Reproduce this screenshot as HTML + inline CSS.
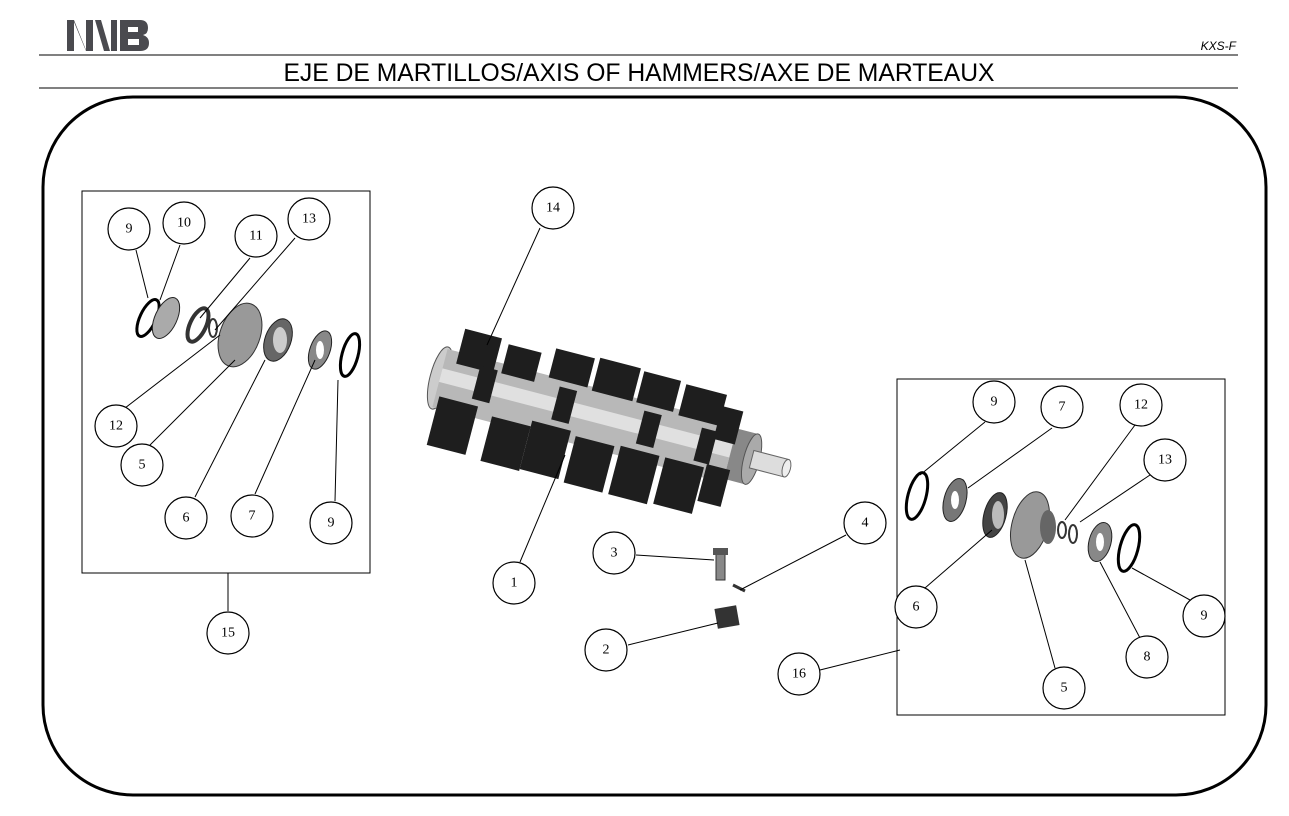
<!DOCTYPE html>
<html><head><meta charset="utf-8"><style>
body{margin:0;background:#fff;}
svg{display:block;font-family:"Liberation Sans",sans-serif;}
.c{fill:#fff;stroke:#000;stroke-width:1.2}
.t{font-family:"Liberation Serif",serif;font-size:14px;text-anchor:middle;dominant-baseline:central}
.l{stroke:#000;stroke-width:1;fill:none}
</style></head><body>
<svg width="1289" height="816" viewBox="0 0 1289 816">
<g fill="#4a4a4f">
<polygon points="67,20 74,20 86,50 86,20 93,20 93,51 86,51 74,22 74,51 67,51"/>
<rect x="111" y="20" width="6" height="31"/>
<path d="M120,20 H140 Q148,20 148,28 Q148,34 143,35 Q149,37 149,43 Q149,51 140,51 H120 Z M128,27 V32 H138 V27 Z M128,39 V45 H139 V39 Z" fill-rule="evenodd"/>
<polygon points="95,20 101,20 110,51 104,51"/>
</g>
<text x="1236" y="50" font-size="12" font-style="italic" text-anchor="end">KXS-F</text>
<line x1="39" y1="55" x2="1238" y2="55" stroke="#000" stroke-width="1"/>
<text x="639" y="81" font-size="24.7" text-anchor="middle">EJE DE MARTILLOS/AXIS OF HAMMERS/AXE DE MARTEAUX</text>
<line x1="39" y1="88" x2="1238" y2="88" stroke="#000" stroke-width="1"/>
<rect x="43" y="97" width="1223" height="698" rx="90" fill="none" stroke="#000" stroke-width="3"/>
<rect x="82" y="191" width="288" height="382" fill="none" stroke="#000" stroke-width="1"/>
<rect x="897" y="379" width="328" height="336" fill="none" stroke="#000" stroke-width="1"/>

<ellipse cx="148" cy="318" rx="8" ry="20" fill="none" stroke="#000" stroke-width="3" transform="rotate(25 148 318)"/>
<ellipse cx="166" cy="318" rx="11" ry="22" fill="#aaa" stroke="#222" transform="rotate(25 166 318)"/>
<ellipse cx="198" cy="325" rx="8" ry="18" fill="none" stroke="#333" stroke-width="4" transform="rotate(25 198 325)"/>
<ellipse cx="213" cy="328" rx="4" ry="9" fill="none" stroke="#333" stroke-width="2"/>
<ellipse cx="240" cy="335" rx="20" ry="33" fill="#999" stroke="#333" transform="rotate(20 240 335)"/>
<ellipse cx="278" cy="340" rx="13" ry="22" fill="#666" stroke="#222" transform="rotate(20 278 340)"/>
<ellipse cx="280" cy="340" rx="7" ry="13" fill="#ccc"/>
<ellipse cx="320" cy="350" rx="10" ry="20" fill="#888" stroke="#222" transform="rotate(20 320 350)"/>
<ellipse cx="320" cy="350" rx="4" ry="9" fill="#fff"/>
<ellipse cx="350" cy="355" rx="8" ry="22" fill="none" stroke="#000" stroke-width="3" transform="rotate(15 350 355)"/>

<ellipse cx="917" cy="496" rx="9" ry="24" fill="none" stroke="#000" stroke-width="3" transform="rotate(15 917 496)"/>
<ellipse cx="955" cy="500" rx="11" ry="22" fill="#777" stroke="#222" transform="rotate(15 955 500)"/>
<ellipse cx="955" cy="500" rx="4" ry="9" fill="#fff"/>
<ellipse cx="995" cy="515" rx="11" ry="23" fill="#444" stroke="#222" transform="rotate(15 995 515)"/>
<ellipse cx="998" cy="515" rx="6" ry="14" fill="#bbb"/>
<ellipse cx="1030" cy="525" rx="18" ry="34" fill="#999" stroke="#333" transform="rotate(15 1030 525)"/>
<ellipse cx="1048" cy="527" rx="8" ry="17" fill="#666"/>
<ellipse cx="1062" cy="530" rx="4" ry="8" fill="none" stroke="#333" stroke-width="2"/>
<ellipse cx="1073" cy="534" rx="4" ry="9" fill="none" stroke="#333" stroke-width="2"/>
<ellipse cx="1100" cy="542" rx="11" ry="20" fill="#888" stroke="#222" transform="rotate(15 1100 542)"/>
<ellipse cx="1100" cy="542" rx="4" ry="9" fill="#fff"/>
<ellipse cx="1129" cy="548" rx="9" ry="24" fill="none" stroke="#000" stroke-width="3" transform="rotate(15 1129 548)"/>

<rect x="716" y="552" width="9" height="28" fill="#888" stroke="#333"/>
<rect x="713" y="548" width="15" height="7" fill="#555"/>
<line x1="733" y1="585" x2="745" y2="591" stroke="#333" stroke-width="3"/>
<rect x="716" y="607" width="22" height="20" fill="#333" transform="rotate(-10 727 617)"/>

<g transform="translate(440,378) rotate(14.6)">
<ellipse cx="0" cy="0" rx="10" ry="32" fill="#ccc" stroke="#555"/>
<rect x="0" y="-30" width="300" height="60" fill="#b8b8b8"/>
<rect x="0" y="-10" width="300" height="14" fill="#e0e0e0"/>
<rect x="300" y="-26" width="22" height="52" fill="#888"/>
<ellipse cx="322" cy="0" rx="8" ry="26" fill="#aaa" stroke="#555"/>
<rect x="322" y="-9" width="36" height="18" fill="#ddd" stroke="#666"/>
<ellipse cx="358" cy="0" rx="4" ry="9" fill="#eee" stroke="#666"/>
<g fill="#1e1e1e">
<rect x="12" y="-54" width="38" height="36"/><rect x="4" y="18" width="40" height="50"/>
<rect x="58" y="-50" width="34" height="30"/><rect x="60" y="24" width="40" height="46"/>
<rect x="105" y="-58" width="40" height="30"/><rect x="100" y="18" width="40" height="50"/>
<rect x="150" y="-60" width="42" height="34"/><rect x="146" y="22" width="40" height="48"/>
<rect x="196" y="-58" width="38" height="32"/><rect x="192" y="20" width="40" height="50"/>
<rect x="240" y="-56" width="42" height="32"/><rect x="238" y="20" width="40" height="48"/>
<rect x="280" y="-44" width="22" height="34"/><rect x="280" y="16" width="24" height="38"/>
<rect x="36" y="-22" width="18" height="34"/><rect x="118" y="-22" width="18" height="34"/><rect x="206" y="-20" width="18" height="34"/><rect x="266" y="-18" width="16" height="34"/>
</g>
</g>

<g class="l">
<line x1="540" y1="228" x2="487" y2="345"/><line x1="520" y1="562" x2="565" y2="455"/>
<line x1="136" y1="250" x2="148" y2="298"/><line x1="180" y1="245" x2="160" y2="300"/>
<line x1="250" y1="258" x2="200" y2="318"/><line x1="295" y1="238" x2="215" y2="330"/>
<line x1="125" y1="408" x2="220" y2="335"/><line x1="150" y1="445" x2="235" y2="360"/>
<line x1="195" y1="497" x2="265" y2="360"/><line x1="255" y1="494" x2="315" y2="360"/>
<line x1="335" y1="501" x2="338" y2="380"/><line x1="228" y1="611" x2="228" y2="573"/>
<line x1="985" y1="422" x2="920" y2="475"/><line x1="1052" y1="428" x2="968" y2="488"/>
<line x1="1135" y1="425" x2="1065" y2="520"/><line x1="1150" y1="475" x2="1080" y2="522"/>
<line x1="925" y1="588" x2="992" y2="530"/><line x1="1055" y1="668" x2="1025" y2="560"/>
<line x1="1140" y1="638" x2="1100" y2="562"/><line x1="1190" y1="600" x2="1132" y2="568"/>
<line x1="820" y1="670" x2="900" y2="650"/><line x1="846" y1="535" x2="740" y2="590"/>
<line x1="636" y1="555" x2="714" y2="560"/><line x1="628" y1="645" x2="718" y2="623"/>
</g>

<g>
<circle class="c" cx="129" cy="229" r="21"/><text class="t" x="129" y="229">9</text>
<circle class="c" cx="184" cy="223" r="21"/><text class="t" x="184" y="223">10</text>
<circle class="c" cx="256" cy="236" r="21"/><text class="t" x="256" y="236">11</text>
<circle class="c" cx="309" cy="219" r="21"/><text class="t" x="309" y="219">13</text>
<circle class="c" cx="116" cy="426" r="21"/><text class="t" x="116" y="426">12</text>
<circle class="c" cx="142" cy="465" r="21"/><text class="t" x="142" y="465">5</text>
<circle class="c" cx="186" cy="518" r="21"/><text class="t" x="186" y="518">6</text>
<circle class="c" cx="252" cy="516" r="21"/><text class="t" x="252" y="516">7</text>
<circle class="c" cx="331" cy="523" r="21"/><text class="t" x="331" y="523">9</text>
<circle class="c" cx="228" cy="633" r="21"/><text class="t" x="228" y="633">15</text>
<circle class="c" cx="553" cy="208" r="21"/><text class="t" x="553" y="208">14</text>
<circle class="c" cx="514" cy="583" r="21"/><text class="t" x="514" y="583">1</text>
<circle class="c" cx="614" cy="553" r="21"/><text class="t" x="614" y="553">3</text>
<circle class="c" cx="865" cy="523" r="21"/><text class="t" x="865" y="523">4</text>
<circle class="c" cx="606" cy="650" r="21"/><text class="t" x="606" y="650">2</text>
<circle class="c" cx="994" cy="402" r="21"/><text class="t" x="994" y="402">9</text>
<circle class="c" cx="1062" cy="407" r="21"/><text class="t" x="1062" y="407">7</text>
<circle class="c" cx="1141" cy="405" r="21"/><text class="t" x="1141" y="405">12</text>
<circle class="c" cx="1165" cy="460" r="21"/><text class="t" x="1165" y="460">13</text>
<circle class="c" cx="916" cy="607" r="21"/><text class="t" x="916" y="607">6</text>
<circle class="c" cx="1204" cy="616" r="21"/><text class="t" x="1204" y="616">9</text>
<circle class="c" cx="1147" cy="657" r="21"/><text class="t" x="1147" y="657">8</text>
<circle class="c" cx="1064" cy="688" r="21"/><text class="t" x="1064" y="688">5</text>
<circle class="c" cx="799" cy="674" r="21"/><text class="t" x="799" y="674">16</text>
</g>
</svg>
</body></html>
